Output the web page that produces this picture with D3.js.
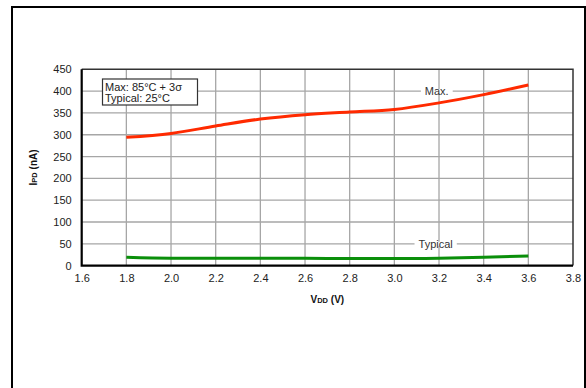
<!DOCTYPE html>
<html>
<head>
<meta charset="utf-8">
<script src="https://cdn.jsdelivr.net/npm/d3@7/dist/d3.min.js"></script>
<style>
body { margin: 0; background: #fff; }
text { font-family: "Liberation Sans", Arial, sans-serif; }
</style>
</head>
<body>
<div id="c"></div>
<script>
// data
var vdd = [1.8, 2.0, 2.2, 2.4, 2.6, 2.8, 3.0, 3.2, 3.4, 3.6];
var max_ipd = [294, 303, 320, 336, 346, 352, 358, 373, 392, 414];
var typ_ipd = [19, 17, 17, 17, 17, 16, 16, 17, 19, 22];
var x_ticks = [1.6, 1.8, 2.0, 2.2, 2.4, 2.6, 2.8, 3.0, 3.2, 3.4, 3.6, 3.8];
var y_ticks = [0, 50, 100, 150, 200, 250, 300, 350, 400, 450];

var width = 586;
var height = 388;

var p_left = 81.7, p_right = 573, p_top = 69.3, p_bottom = 265.6;

var svg = d3.select("#c").append("svg")
	.attr("width", width)
	.attr("height", height);

// outer frame
svg.append("path")
	.attr("d", "M12,388 L12,7 L585,7 L585,388")
	.attr("fill", "none")
	.attr("stroke", "#000")
	.attr("stroke-width", 2);

var x_scale = d3.scaleLinear().domain([1.6, 3.8]).range([p_left, p_right]);
var y_scale = d3.scaleLinear().domain([0, 450]).range([p_bottom, p_top]);

// grid
svg.append("g")
	.selectAll("line")
	.data(x_ticks.slice(1, -1))
	.enter()
	.append("line")
	.attr("x1", function(d) { return x_scale(d) })
	.attr("x2", function(d) { return x_scale(d) })
	.attr("y1", p_top)
	.attr("y2", p_bottom)
	.attr("stroke", "#a6a6a6")
	.attr("stroke-width", 1.3);

svg.append("g")
	.selectAll("line")
	.data(y_ticks.slice(1, -1))
	.enter()
	.append("line")
	.attr("x1", p_left)
	.attr("x2", p_right)
	.attr("y1", function(d) { return y_scale(d) })
	.attr("y2", function(d) { return y_scale(d) })
	.attr("stroke", "#a6a6a6")
	.attr("stroke-width", 1.3);

// axes
var x_axis = svg.append("g")
	.attr("transform", "translate(0," + p_bottom + ")")
	.call(d3.axisBottom(x_scale).tickValues(x_ticks).tickFormat(d3.format(".1f")).tickSize(0).tickPadding(9));
x_axis.select(".domain").remove();
x_axis.selectAll("text")
	.attr("font-size", 11)
	.attr("fill", "#222")
	.style("font-family", "Liberation Sans, Arial, sans-serif");

var y_axis = svg.append("g")
	.attr("transform", "translate(" + p_left + ",0)")
	.call(d3.axisLeft(y_scale).tickValues(y_ticks).tickSize(0).tickPadding(10));
y_axis.select(".domain").remove();
y_axis.selectAll("text")
	.attr("font-size", 11)
	.attr("fill", "#222")
	.style("font-family", "Liberation Sans, Arial, sans-serif");

// plot border
svg.append("path")
	.attr("d", "M" + p_left + "," + p_top + " L" + p_right + "," + p_top + " L" + p_right + "," + p_bottom)
	.attr("fill", "none")
	.attr("stroke", "#333")
	.attr("stroke-width", 1.5);
svg.append("path")
	.attr("d", "M" + p_left + "," + p_top + " L" + p_left + "," + p_bottom + " L" + p_right + "," + p_bottom)
	.attr("fill", "none")
	.attr("stroke", "#000")
	.attr("stroke-width", 2.2);

// curve labels on gridlines
function grid_label(txt, xv, yv) {
	var g = svg.append("g");
	var t = g.append("text")
		.attr("x", x_scale(xv))
		.attr("y", y_scale(yv) + 4)
		.attr("text-anchor", "middle")
		.attr("font-size", 11)
		.attr("fill", "#333")
		.text(txt);
	var bb = t.node().getBBox();
	g.insert("rect", "text")
		.attr("x", bb.x - 4)
		.attr("y", y_scale(yv) - 2)
		.attr("width", bb.width + 8)
		.attr("height", 4)
		.attr("fill", "#fff");
}
grid_label("Max.", 3.19, 400);
grid_label("Typical", 3.185, 50);

// series
var line = d3.line()
	.x(function(d) { return x_scale(d[0]) })
	.y(function(d) { return y_scale(d[1]) })
	.curve(d3.curveMonotoneX);

svg.append("path")
	.datum(vdd.map(function(v, i) { return [v, max_ipd[i]] }))
	.attr("d", line)
	.attr("fill", "none")
	.attr("stroke", "#ff2a00")
	.attr("stroke-width", 3);

svg.append("path")
	.datum(vdd.map(function(v, i) { return [v, typ_ipd[i]] }))
	.attr("d", line)
	.attr("fill", "none")
	.attr("stroke", "#0a8f0a")
	.attr("stroke-width", 3);

// legend box
svg.append("rect")
	.attr("x", 102.5)
	.attr("y", 79)
	.attr("width", 95)
	.attr("height", 26)
	.attr("fill", "#fff")
	.attr("stroke", "#333")
	.attr("stroke-width", 1.2);
svg.append("text")
	.attr("x", 105)
	.attr("y", 90.5)
	.attr("font-size", 11)
	.attr("fill", "#222")
	.text("Max: 85°C + 3σ");
svg.append("text")
	.attr("x", 105)
	.attr("y", 102)
	.attr("font-size", 11)
	.attr("fill", "#222")
	.text("Typical: 25°C");

// axis titles
var xt = svg.append("text")
	.attr("x", (p_left + p_right) / 2)
	.attr("y", 303)
	.attr("text-anchor", "middle")
	.attr("font-size", 10)
	.attr("font-weight", "bold")
	.attr("fill", "#111");
xt.append("tspan").text("V");
xt.append("tspan").attr("font-size", 7.5).text("DD");
xt.append("tspan").text(" (V)");

var yt = svg.append("text")
	.attr("transform", "translate(37," + ((p_top + p_bottom) / 2) + ") rotate(-90)")
	.attr("text-anchor", "middle")
	.attr("font-size", 10)
	.attr("font-weight", "bold")
	.attr("fill", "#111");
yt.append("tspan").text("I");
yt.append("tspan").attr("font-size", 7.5).text("PD");
yt.append("tspan").text(" (nA)");
</script>
</body>
</html>
